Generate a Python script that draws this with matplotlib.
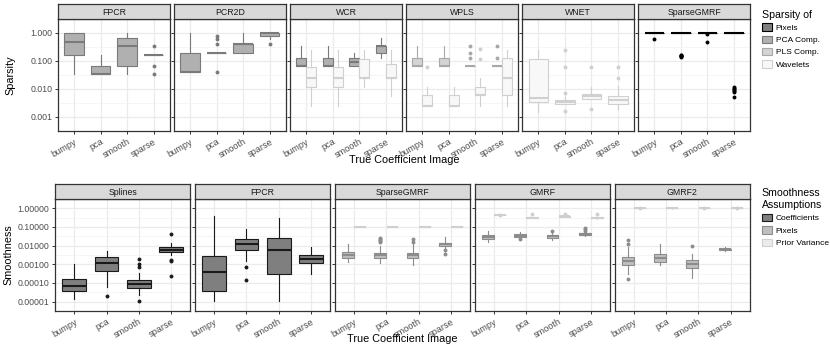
import matplotlib
matplotlib.use("Agg")
import matplotlib.pyplot as plt
from matplotlib.patches import Patch
import numpy as np

plt.rcParams["font.family"] = ["Liberation Sans", "DejaVu Sans"]

CATS = ["bumpy", "pca", "smooth", "sparse"]

# ---- 上排: Sparsity, 每个类别 [whislo, q1, med, q3, whishi] ----
FPCR_PCA = [[0.033, 0.167, 0.467, 1.0, 1.0], [0.033, 0.033, 0.033, 0.067, 0.167],
            [0.033, 0.067, 0.333, 0.667, 1.0], [0.167, 0.167, 0.167, 0.167, 0.167]]
FPCR_PCA_OUT = [[], [], [], [0.333, 0.067, 0.033]]

PCR2D_PCA = [[0.04, 0.04, 0.04, 0.2, 1.0], [0.2, 0.2, 0.2, 0.2, 0.2],
             [0.2, 0.2, 0.4, 0.4, 1.0], [0.6, 0.8, 1.0, 1.0, 1.0]]
PCR2D_PCA_OUT = [[], [0.8, 0.6, 0.4, 0.04], [], [0.4]]

WCR_PCA = [[0.067, 0.067, 0.067, 0.133, 0.333], [0.067, 0.067, 0.067, 0.133, 0.333],
           [0.067, 0.067, 0.093, 0.133, 0.19], [0.133, 0.19, 0.333, 0.333, 0.667]]
WCR_PCA_OUT = [[], [], [], []]
WCR_WAV = [[0.0024, 0.012, 0.024, 0.062, 0.24], [0.0024, 0.012, 0.024, 0.062, 0.24],
           [0.012, 0.024, 0.024, 0.12, 0.24], [0.0058, 0.024, 0.024, 0.075, 0.24]]
WCR_WAV_OUT = [[], [], [], []]

WPLS_PLS = [[0.067, 0.067, 0.067, 0.133, 0.333], [0.067, 0.067, 0.067, 0.133, 0.333],
            [0.067, 0.067, 0.067, 0.067, 0.067], [0.067, 0.067, 0.067, 0.067, 0.067]]
WPLS_PLS_OUT = [[], [], [0.333, 0.2, 0.133], [0.333, 0.133]]
WPLS_WAV = [[0.0024, 0.0024, 0.0024, 0.006, 0.012], [0.0024, 0.0024, 0.0024, 0.006, 0.012],
            [0.0024, 0.006, 0.006, 0.012, 0.024], [0.0024, 0.006, 0.024, 0.123, 0.24]]
WPLS_WAV_OUT = [[0.062], [], [0.26, 0.12], []]

WNET_WAV = [[0.0015, 0.0033, 0.0047, 0.122, 0.24], [0.0029, 0.0029, 0.0035, 0.0041, 0.0051],
            [0.0044, 0.0044, 0.0054, 0.0068, 0.012], [0.0019, 0.0029, 0.0039, 0.0057, 0.0133]]
WNET_WAV_OUT = [[], [0.24, 0.061, 0.007, 0.0016], [0.061, 0.0019], [0.061, 0.024]]

SPGMRF_PIX = [[1.0, 1.0, 1.0, 1.0, 1.0]] * 4
SPGMRF_PIX_OUT = [[0.62], [0.17, 0.16, 0.155, 0.15, 0.145, 0.14], [0.93, 0.47],
                  [0.012, 0.011, 0.0098, 0.009, 0.0082, 0.0075, 0.0052]]

# ---- 下排: Smoothness ----
SPL_COEF = [[1.35e-5, 3.7e-5, 6.6e-5, 1.56e-4, 1.0e-3], [6.1e-5, 4.5e-4, 1.15e-3, 2.6e-3, 5.1e-3],
            [2.2e-5, 5.4e-5, 8.9e-5, 1.45e-4, 3.5e-4], [3.2e-3, 4.6e-3, 5.8e-3, 8.1e-3, 0.0142]]
SPL_COEF_OUT = [[], [2.1e-5], [2.0e-3, 1.0e-3, 7.0e-4, 1.04e-5], [0.041, 1.75e-3, 1.5e-3, 2.45e-4]]

FPCR_COEF = [[1.04e-5, 3.9e-5, 3.7e-4, 2.9e-3, 0.39], [1.6e-3, 6.2e-3, 0.0123, 0.023, 0.083],
             [1.1e-5, 3.1e-4, 6.2e-3, 0.027, 0.31], [3.1e-4, 1.2e-3, 2.0e-3, 3.2e-3, 8.7e-3]]
FPCR_COEF_OUT = [[], [7e-4, 1.5e-4], [], []]

SPG_PIX = [[1.4e-3, 2.3e-3, 3.3e-3, 4.6e-3, 0.0118], [1.15e-3, 2.2e-3, 3.2e-3, 4.1e-3, 9.1e-3],
           [9e-4, 2.2e-3, 3.2e-3, 4.3e-3, 0.0118], [6.2e-3, 9.8e-3, 0.0118, 0.014, 0.030]]
SPG_PIX_OUT = [[], [0.027, 0.024, 0.021, 0.018, 0.016], [0.023, 0.016], [5.6e-3, 3.5e-3]]
SPG_PRIOR = [[0.105, 0.105, 0.105, 0.105, 0.105]] * 4
SPG_PRIOR_OUT = [[], [], [], []]

GMRF_PIX = [[0.015, 0.022, 0.030, 0.039, 0.064], [0.030, 0.030, 0.035, 0.041, 0.053],
            [0.020, 0.026, 0.031, 0.038, 0.049], [0.033, 0.039, 0.044, 0.049, 0.049]]
GMRF_PIX_OUT = [[], [0.023], [0.064], [0.086, 0.075, 0.064]]
GMRF_PRIOR = [[0.41, 0.42, 0.43, 0.44, 0.45], [0.31, 0.31, 0.32, 0.33, 0.34],
              [0.35, 0.36, 0.37, 0.38, 0.39], [0.28, 0.29, 0.31, 0.34, 0.36]]
GMRF_PRIOR_OUT = [[0.43], [0.47], [0.47], [0.47]]

GMRF2_PIX = [[3e-4, 8.8e-4, 1.55e-3, 2.5e-3, 8.1e-3], [8.8e-4, 1.3e-3, 2.1e-3, 3.4e-3, 0.012],
             [1.9e-4, 6e-4, 1.0e-3, 1.7e-3, 3.8e-3], [5.2e-3, 6e-3, 6.4e-3, 6.9e-3, 8.1e-3]]
GMRF2_PIX_OUT = [[0.021, 0.013, 1.6e-4], [], [9.8e-3], []]
GMRF2_PRIOR = [[0.97, 0.98, 0.99, 1.0, 1.0]] * 4
GMRF2_PRIOR_OUT = [[1.0], [], [1.0], [1.0]]

# 颜色: (edge, fill)
SP_STYLE = {"Pixels": ("#000000", "#7f7f7f"), "PCA Comp.": ("#7a7a7a", "#b0b0b0"),
            "PLS Comp.": ("#a8a8a8", "#d4d4d4"), "Wavelets": ("#d0d0d0", "#f8f8f8")}
SM_STYLE = {"Coefficients": ("#1a1a1a", "#7f7f7f"), "Pixels": ("#8c8c8c", "#bfbfbf"),
            "Prior Variance": ("#cfcfcf", "#ececec")}

top_panels = [
    ("FPCR", [("PCA Comp.", FPCR_PCA, FPCR_PCA_OUT)]),
    ("PCR2D", [("PCA Comp.", PCR2D_PCA, PCR2D_PCA_OUT)]),
    ("WCR", [("PCA Comp.", WCR_PCA, WCR_PCA_OUT), ("Wavelets", WCR_WAV, WCR_WAV_OUT)]),
    ("WPLS", [("PLS Comp.", WPLS_PLS, WPLS_PLS_OUT), ("Wavelets", WPLS_WAV, WPLS_WAV_OUT)]),
    ("WNET", [("Wavelets", WNET_WAV, WNET_WAV_OUT)]),
    ("SparseGMRF", [("Pixels", SPGMRF_PIX, SPGMRF_PIX_OUT)]),
]
bottom_panels = [
    ("Splines", [("Coefficients", SPL_COEF, SPL_COEF_OUT)]),
    ("FPCR", [("Coefficients", FPCR_COEF, FPCR_COEF_OUT)]),
    ("SparseGMRF", [("Pixels", SPG_PIX, SPG_PIX_OUT), ("Prior Variance", SPG_PRIOR, SPG_PRIOR_OUT)]),
    ("GMRF", [("Pixels", GMRF_PIX, GMRF_PIX_OUT), ("Prior Variance", GMRF_PRIOR, GMRF_PRIOR_OUT)]),
    ("GMRF2", [("Pixels", GMRF2_PIX, GMRF2_PIX_OUT), ("Prior Variance", GMRF2_PRIOR, GMRF2_PRIOR_OUT)]),
]

W, H = 830, 360
fig = plt.figure(figsize=(8.3, 3.6), dpi=100)


def px_axes(x0, y0, x1, y1):
    return fig.add_axes([x0 / W, 1 - y1 / H, (x1 - x0) / W, (y1 - y0) / H])


def draw_panel(x0, x1, top, bottom, title, groups, styles, ylim, yticks, ylabels, show_y):
    ax = px_axes(x0, top, x1, bottom)
    sax = px_axes(x0, top - 15, x1, top)
    # strip
    sax.set_facecolor("#D9D9D9")
    sax.set_xticks([]); sax.set_yticks([])
    for s in sax.spines.values():
        s.set_color("#333333"); s.set_linewidth(0.9)
    sax.text(0.5, 0.45, title, ha="center", va="center", fontsize=6.3, color="#1a1a1a",
             transform=sax.transAxes)

    ax.set_yscale("log")
    ax.set_ylim(*ylim)
    ax.set_xlim(0.4, 4.6)
    lo, hi = np.log10(yticks[-1]), np.log10(yticks[0])
    minors = [10 ** (k + 0.5) for k in np.arange(lo - 1, hi + 1)]
    ax.set_yticks(yticks)
    ax.set_yticks(minors, minor=True)
    ax.set_yticklabels(ylabels if show_y else [])
    ax.tick_params(axis="y", which="minor", length=0)
    ax.tick_params(axis="y", which="major", length=2.5, width=0.7, color="#333333",
                   labelsize=6.3, labelcolor="#4D4D4D", pad=1.5,
                   left=True)
    ax.set_xticks(range(1, 5))
    ax.set_xticklabels(CATS, rotation=30, ha="right", va="top", rotation_mode="anchor")
    ax.tick_params(axis="x", length=2.5, width=0.7, color="#333333", labelsize=6.6,
                   labelcolor="#4D4D4D", pad=2)
    ax.grid(which="major", color="#EBEBEB", linewidth=0.9)
    ax.grid(which="minor", axis="y", color="#F2F2F2", linewidth=0.5)
    ax.set_axisbelow(True)
    for s in ax.spines.values():
        s.set_color("#333333"); s.set_linewidth(0.9)

    n = len(groups)
    bw = 0.75 / n
    for gi, (name, five, outs) in enumerate(groups):
        ec, fc = styles[name]
        off = -0.375 + bw * (gi + 0.5)
        stats = []
        for f, o in zip(five, outs):
            stats.append(dict(whislo=f[0], q1=f[1], med=f[2], q3=f[3], whishi=f[4], fliers=o))
        ax.bxp(stats, positions=[i + 1 + off for i in range(4)], widths=bw * 0.98,
               patch_artist=True, showcaps=False, manage_ticks=False,
               boxprops=dict(facecolor=fc, edgecolor=ec, linewidth=0.8),
               whiskerprops=dict(color=ec, linewidth=0.8),
               medianprops=dict(color=ec, linewidth=1.5, solid_capstyle="butt"),
               flierprops=dict(marker="o", markerfacecolor=ec, markeredgecolor="none",
                               markersize=2.8))
    return ax


# ---- 上排 ----
top_y = [1.0, 0.1, 0.01, 0.001]
top_lab = ["1.000", "0.100", "0.010", "0.001"]
x0, x1, gap = 58, 750, 4.5
pw = (x1 - x0 - gap * 5) / 6
for i, (title, groups) in enumerate(top_panels):
    a = x0 + i * (pw + gap)
    draw_panel(a, a + pw, 19, 131, title, groups, SP_STYLE,
               (10 ** (-3 - 4 / 34), 10 ** (5 / 34)), top_y, top_lab, i == 0)

# ---- 下排 ----
bot_y = [1.0, 0.1, 0.01, 0.001, 0.0001, 0.00001]
bot_lab = ["1.00000", "0.10000", "0.01000", "0.00100", "0.00010", "0.00001"]
x0b = 55
pwb = (x1 - x0b - gap * 4) / 5
for i, (title, groups) in enumerate(bottom_panels):
    a = x0b + i * (pwb + gap)
    draw_panel(a, a + pwb, 199, 311, title, groups, SM_STYLE,
               (10 ** (-5 - 5 / 20.4), 10 ** (5 / 20.4)), bot_y, bot_lab, i == 0)

# 轴标题
fig.text(10 / W, 1 - 75 / H, "Sparsity", rotation=90, ha="center", va="center", fontsize=7.8)
fig.text(8 / W, 1 - 255 / H, "Smoothness", rotation=90, ha="center", va="center", fontsize=7.8)
fig.text(404 / W, 1 - 160 / H, "True Coefficient Image", ha="center", va="center", fontsize=7.8)
fig.text(402 / W, 1 - 339 / H, "True Coefficient Image", ha="center", va="center", fontsize=7.8)

# 图例
h_top = [Patch(facecolor=SP_STYLE[k][1], edgecolor=SP_STYLE[k][0], linewidth=0.8) for k in SP_STYLE]
leg1 = fig.legend(h_top, list(SP_STYLE), title="Sparsity of", loc="upper left",
                  bbox_to_anchor=(754 / W, 1 - 2 / H), frameon=False, fontsize=6,
                  title_fontsize=7.6, handlelength=1.3, handleheight=1.0,
                  handletextpad=0.4, labelspacing=0.45, alignment="left")
h_bot = [Patch(facecolor=SM_STYLE[k][1], edgecolor=SM_STYLE[k][0], linewidth=0.8) for k in SM_STYLE]
leg2 = fig.legend(h_bot, list(SM_STYLE), title="Smoothness\nAssumptions", loc="upper left",
                  bbox_to_anchor=(754 / W, 1 - 181 / H), frameon=False, fontsize=6,
                  title_fontsize=7.6, handlelength=1.3, handleheight=1.0,
                  handletextpad=0.4, labelspacing=0.45, alignment="left")

fig.savefig("out.png", dpi=100)
